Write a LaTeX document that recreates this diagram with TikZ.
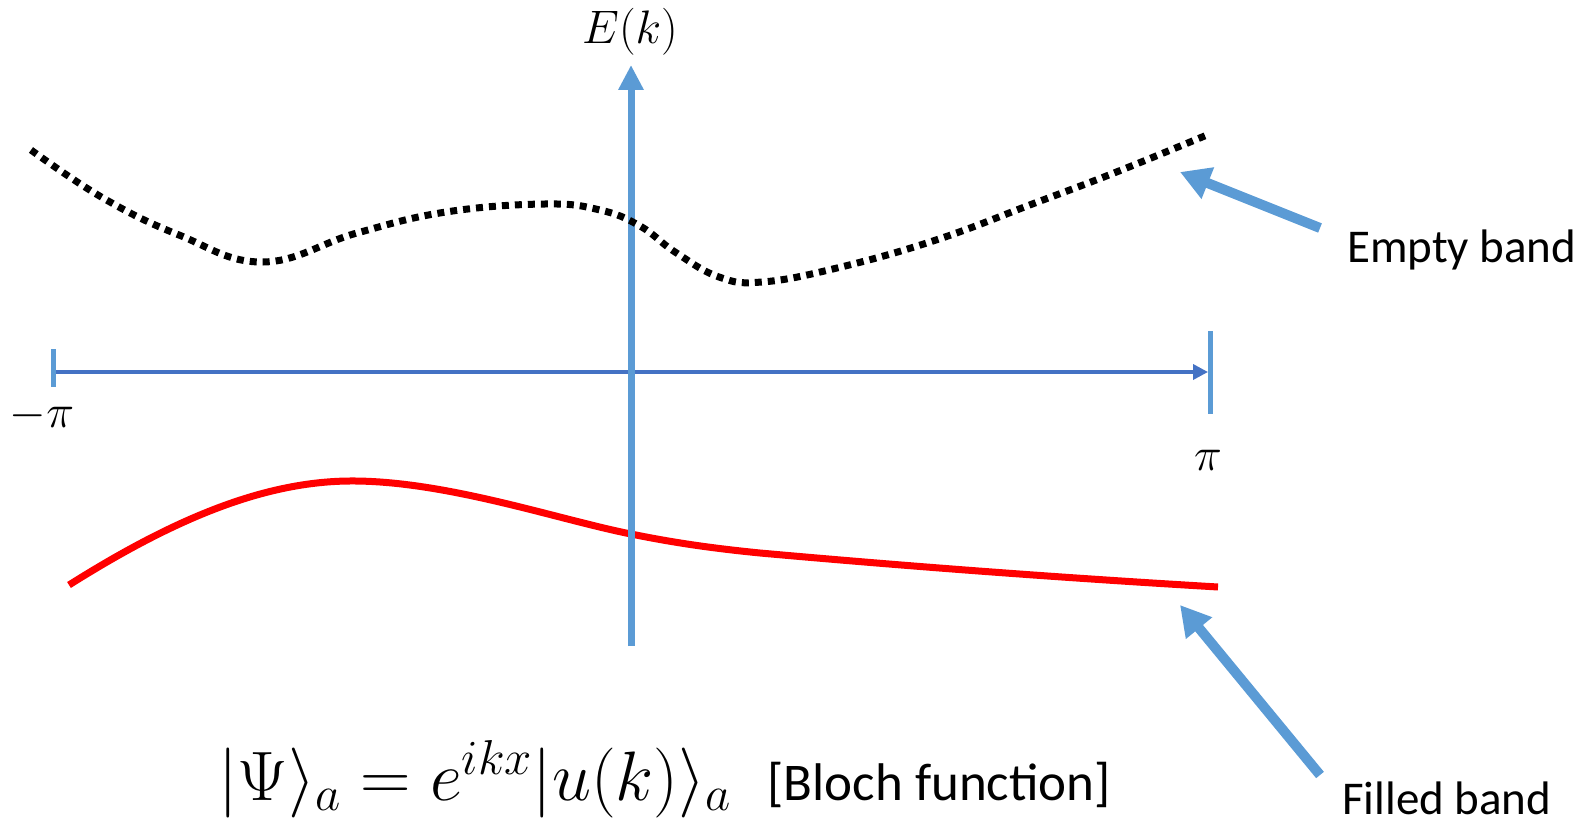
\RequirePackage{fix-cm}
\documentclass[tikz,border=0pt]{standalone}
\usepackage{fontspec}
\setmainfont{Carlito}
\usetikzlibrary{arrows.meta}
\definecolor{axblue}{HTML}{5B9BD5}
\definecolor{hblue}{HTML}{4472C4}
\tikzset{
  lbl/.style={inner sep=0pt, font=\fontsize{47}{56}\selectfont},
  pointer/.style={draw=axblue, line width=10pt, -{Triangle[length=30pt,width=32pt]}},
  tickmark/.style={draw=axblue, line width=5pt},
  emptyband/.style={draw=black, line width=7pt, dash pattern=on 7pt off 6pt},
  filledband/.style={draw=red, line width=7pt},
}
\begin{document}
\begin{tikzpicture}[x=1pt,y=-1pt]
\useasboundingbox (0,0) rectangle (1595,821);

% filled band
\draw[filledband] (69,585) .. controls (180,515) and (270,480) .. (356,481)
  .. controls (450,482) and (560,520) .. (631,534)
  .. controls (680,544) and (720,549) .. (760,553)
  .. controls (950,570) and (1100,580) .. (1218,587);

% horizontal axis
\coordinate (hl) at (53,372);
\coordinate (hr) at (1208,372);
\draw[hblue, line width=3.5pt, -{Triangle[length=15pt,width=15pt]}] (hl) -- (hr);
\coordinate (t1a) at (53,349); \coordinate (t1b) at (53,387);
\coordinate (t2a) at (1210,331); \coordinate (t2b) at (1210,414);
\draw[tickmark] (t1a) -- (t1b);
\draw[tickmark] (t2a) -- (t2b);

% vertical axis
\coordinate (vb) at (631,646);
\coordinate (vt) at (631,65);
\draw[axblue, line width=7pt, -{Triangle[length=25pt,width=24pt]}] (vb) -- (vt);

% empty band
\draw[emptyband] plot[smooth, tension=0.7] coordinates {(31,150) (103,198) (179,235) (263,262) (357,233) (446,212) (545,204) (600,210) (640,226) (675,252) (719,277) (762,282) (837,268) (936,240) (1035,203) (1114,173) (1207,135)};

% labels
\node[lbl, anchor=base] (ek) at (630,44) {$E(k)$};
\node[lbl, anchor=base] (mpi) at (42,427) {$-\pi$};
\node[lbl, anchor=base] (pi) at (1208,470) {$\pi$};
\node[lbl, anchor=base west] (empty) at (1347,262) {Empty band};
\node[lbl, anchor=base west, text depth=0pt] (filled) at (1342,814) {Filled band};
\node[anchor=base west, inner sep=0pt] (bloch) at (218,800) {\fontsize{70}{82}\selectfont$|\Psi\rangle_a = e^{ikx}|u(k)\rangle_a$\hspace{36pt}\fontsize{53}{62}\selectfont[Bloch function]};

% pointers
\coordinate (et) at (1320,228); \coordinate (eh) at (1180,172);
\coordinate (ft) at (1320,775); \coordinate (fh) at (1180,605);
\draw[pointer] (et) -- (eh);
\draw[pointer] (ft) -- (fh);
\end{tikzpicture}
\end{document}
